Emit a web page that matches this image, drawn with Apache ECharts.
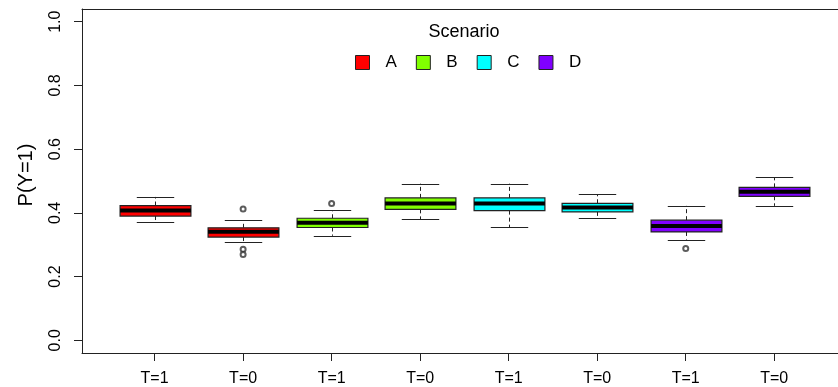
<!DOCTYPE html>
<html>
<head>
<meta charset="utf-8">
<script src="https://cdn.jsdelivr.net/npm/echarts@6/dist/echarts.min.js"></script>
<style>
  html, body { margin: 0; padding: 0; background: #fff; }
  #chart { width: 838px; height: 387px; }
</style>
</head>
<body>
<div id="chart"></div>
<script>
// ---- data ----
const tickLabels = ['T=1', 'T=0', 'T=1', 'T=0', 'T=1', 'T=0', 'T=1', 'T=0'];
const boxPositions = [1, 2, 3, 4, 5, 6, 7, 8];
const boxScenario = ['A', 'A', 'B', 'B', 'C', 'C', 'D', 'D'];
const scenarios = ['A', 'B', 'C', 'D'];
const scenarioColors = ['#FF0000', '#80FF00', '#00FFFF', '#8000FF'];
const whiskerLow  = [0.372, 0.310, 0.328, 0.380, 0.355, 0.383, 0.316, 0.422];
const quart1      = [0.390, 0.324, 0.354, 0.411, 0.407, 0.403, 0.340, 0.452];
const medians     = [0.407, 0.341, 0.369, 0.429, 0.429, 0.417, 0.359, 0.466];
const quart3      = [0.423, 0.353, 0.383, 0.447, 0.447, 0.430, 0.377, 0.480];
const whiskerHigh = [0.450, 0.376, 0.408, 0.492, 0.492, 0.458, 0.422, 0.511];
const outlierBox   = [2, 2, 2, 3, 7];
const outlierValue = [0.412, 0.286, 0.269, 0.429, 0.288];
const yTicks = [0, 0.2, 0.4, 0.6, 0.8, 1.0];

const FONT = '"Liberation Sans", Arial, sans-serif';

function renderBox(color) {
  return function (params, api) {
    const x = api.value(0);
    const pLow = api.coord([x, api.value(1)]);
    const pQ1 = api.coord([x, api.value(2)]);
    const pMed = api.coord([x, api.value(3)]);
    const pQ3 = api.coord([x, api.value(4)]);
    const pHigh = api.coord([x, api.value(5)]);
    const w = api.size([0.8, 0])[0];
    const cx = Math.round(pMed[0]) + 0.5;
    const hw = w / 2;
    const cw = w / 4 + 1;
    const lineStyle = { stroke: '#222', lineWidth: 1 };
    const dashStyle = { stroke: '#222', lineWidth: 1, lineDash: [4, 3] };
    return {
      type: 'group',
      children: [
        { type: 'line', shape: { x1: cx, y1: pQ3[1], x2: cx, y2: pHigh[1] }, style: dashStyle },
        { type: 'line', shape: { x1: cx, y1: pQ1[1], x2: cx, y2: pLow[1] }, style: dashStyle },
        { type: 'line', shape: { x1: cx - cw, y1: Math.round(pHigh[1]) + 0.5, x2: cx + cw, y2: Math.round(pHigh[1]) + 0.5 }, style: lineStyle },
        { type: 'line', shape: { x1: cx - cw, y1: Math.round(pLow[1]) + 0.5, x2: cx + cw, y2: Math.round(pLow[1]) + 0.5 }, style: lineStyle },
        { type: 'rect', shape: { x: cx - hw, y: pQ3[1], width: w, height: pQ1[1] - pQ3[1] },
          style: { fill: color, stroke: '#222', lineWidth: 1.2 } },
        { type: 'line', shape: { x1: cx - hw, y1: pMed[1], x2: cx + hw, y2: pMed[1] },
          style: { stroke: '#000', lineWidth: 4 } }
      ]
    };
  };
}

const series = scenarios.map(function (s, si) {
  const data = [];
  boxPositions.forEach(function (p, i) {
    if (boxScenario[i] === s) {
      data.push([p, whiskerLow[i], quart1[i], medians[i], quart3[i], whiskerHigh[i]]);
    }
  });
  return {
    name: s,
    type: 'custom',
    xAxisIndex: 0,
    itemStyle: { color: scenarioColors[si] },
    renderItem: renderBox(scenarioColors[si]),
    encode: { x: 0, y: [1, 2, 3, 4, 5] },
    data: data
  };
});

series.push({
  type: 'scatter',
  xAxisIndex: 0,
  symbol: 'emptyCircle',
  symbolSize: 5,
  itemStyle: { color: '#333', borderColor: '#333', borderWidth: 0.9 },
  data: outlierBox.map(function (b, i) { return [boxPositions[b - 1], outlierValue[i]]; })
});

const xMin = 0.18, xMax = 8.72;

const chart = echarts.init(document.getElementById('chart'), null, { renderer: 'canvas' });
chart.setOption({
  animation: false,
  backgroundColor: '#fff',
  textStyle: { fontFamily: FONT },
  grid: { left: 82, right: 0, top: 9, bottom: 34, show: false },
  legend: {
    data: scenarios,
    left: 350, top: 49,
    icon: 'rect',
    itemWidth: 14, itemHeight: 14,
    itemGap: 19,
    selectedMode: false,
    itemStyle: { borderColor: '#222', borderWidth: 1 },
    textStyle: { fontSize: 17, color: '#000', fontFamily: FONT, padding: [0, 0, 0, 11] }
  },
  graphic: [{
    type: 'text',
    x: 464, y: 32,
    style: { text: 'Scenario', fontSize: 18, fontFamily: FONT, fill: '#000',
             textAlign: 'center', textVerticalAlign: 'middle' }
  }],
  xAxis: [{
    type: 'value',
    min: xMin, max: xMax,
    splitLine: { show: false },
    axisLine: { show: true, onZero: false, lineStyle: { color: '#222' } },
    axisTick: { show: true, length: 8, customValues: boxPositions, lineStyle: { color: '#222' } },
    axisLabel: {
      customValues: boxPositions,
      margin: 18,
      fontSize: 16, color: '#000', fontFamily: FONT,
      formatter: function (v) { return tickLabels[Math.round(v) - 1]; }
    }
  }, {
    type: 'value',
    position: 'top',
    min: xMin, max: xMax,
    splitLine: { show: false },
    axisLine: { show: true, onZero: false, lineStyle: { color: '#222' } },
    axisTick: { show: false },
    axisLabel: { show: false }
  }],
  yAxis: {
    type: 'value',
    min: -0.04, max: 1.04,
    name: 'P(Y=1)',
    nameLocation: 'middle',
    nameGap: 46,
    nameRotate: 90,
    nameTextStyle: { fontSize: 20, color: '#000', fontFamily: FONT, padding: [0, 0, 0, 12] },
    splitLine: { show: false },
    axisLine: { show: true, onZero: false, lineStyle: { color: '#222' } },
    axisTick: { show: true, length: 8, customValues: yTicks, lineStyle: { color: '#222' } },
    axisLabel: {
      customValues: yTicks,
      rotate: 90,
      margin: 18,
      fontSize: 16, color: '#000', fontFamily: FONT,
      formatter: function (v) { return v.toFixed(1); }
    }
  },
  series: series
});
</script>
</body>
</html>
